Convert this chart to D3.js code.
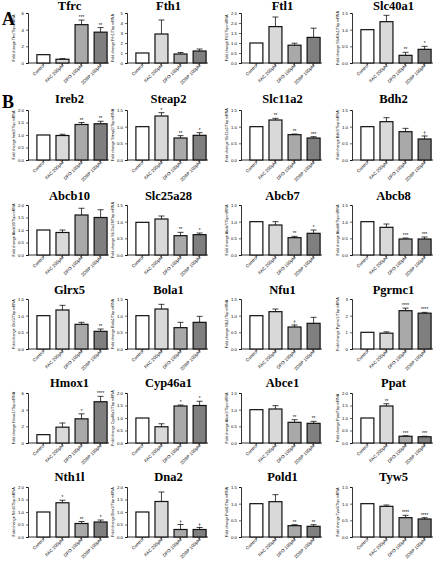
<!DOCTYPE html>
<html>
  <head>
    <meta charset="UTF-8">
    <title>Fold change panels</title>
    <script src="https://d3js.org/d3.v7.min.js"></script>
    <style>
      body { margin: 0; background: #fff; }
    </style>
  </head>
  <body>
    <svg width="444" height="561"></svg>
    <script>
      // groups on the x axis
      var groups = ["Control", "FAC 200μM", "DFO 100μM", "2DBP 100μM"];
      var fills = ["#ffffff", "#d9d9d9", "#a9a9a9", "#7f7f7f"];

      // gene names, one per panel, row by row
      var genes = ["Tfrc", "Fth1", "Ftl1", "Slc40a1",
                   "Ireb2", "Steap2", "Slc11a2", "Bdh2",
                   "Abcb10", "Slc25a28", "Abcb7", "Abcb8",
                   "Glrx5", "Bola1", "Nfu1", "Pgrmc1",
                   "Hmox1", "Cyp46a1", "Abce1", "Ppat",
                   "Nth1l", "Dna2", "Pold1", "Tyw5"];

      // mean fold change
      var means = [[1, 0.45, 4.6, 3.7], [1, 2.9, 0.9, 1.2], [1, 1.82, 0.89, 1.28], [1, 1.24, 0.23, 0.41],
                   [1, 0.98, 1.42, 1.45], [1, 1.32, 0.66, 0.74], [1, 1.2, 0.76, 0.66], [1, 1.15, 0.85, 0.63],
                   [1, 0.9, 1.6, 1.5], [0.98, 1.08, 0.58, 0.61], [1, 0.9, 0.52, 0.65], [1, 0.83, 0.48, 0.48],
                   [1, 1.17, 0.74, 0.53], [1, 1.2, 0.64, 0.8], [1, 1.12, 0.66, 0.77], [1, 0.95, 2.3, 2.15],
                   [1, 1.9, 2.9, 4.95], [1, 0.65, 1.48, 1.5], [1, 1.02, 0.62, 0.59], [1, 1.48, 0.27, 0.25],
                   [1, 1.37, 0.54, 0.6], [1, 1.42, 0.3, 0.3], [1, 1.06, 0.34, 0.32], [1, 0.92, 0.58, 0.54]];

      // standard error
      var errors = [[0, 0.08, 0.55, 0.55], [0, 1.4, 0.15, 0.2], [0, 0.48, 0.1, 0.46], [0, 0.19, 0.09, 0.09],
                    [0, 0.05, 0.08, 0.1], [0, 0.1, 0.07, 0.08], [0, 0.05, 0.02, 0.04], [0, 0.12, 0.1, 0.09],
                    [0, 0.1, 0.27, 0.31], [0, 0.09, 0.1, 0.05], [0, 0.1, 0.04, 0.1], [0, 0.1, 0.03, 0.06],
                    [0, 0.14, 0.06, 0.07], [0, 0.14, 0.16, 0.18], [0, 0.08, 0.06, 0.18], [0, 0.08, 0.15, 0.05],
                    [0, 0.5, 0.6, 0.65], [0, 0.12, 0.04, 0.17], [0, 0.1, 0.08, 0.06], [0, 0.09, 0.02, 0.02],
                    [0, 0.1, 0.08, 0.08], [0, 0.38, 0.2, 0.08], [0, 0.21, 0.03, 0.05], [0, 0.04, 0.07, 0.04]];

      // significance marks
      var marks = [["", "", "***", "**"], ["", "", "", ""], ["", "", "", ""], ["", "", "**", "*"],
                   ["", "", "**", "**"], ["", "*", "**", "*"], ["", "**", "**", "***"], ["", "", "", "†"],
                   ["", "", "", ""], ["", "", "**", "*"], ["", "", "**", "*"], ["", "", "***", "***"],
                   ["", "", "", "**"], ["", "", "", ""], ["", "", "†", ""], ["", "", "****", "****"],
                   ["", "", "*", "****"], ["", "", "*", "*"], ["", "", "**", "**"], ["", "**", "***", "***"],
                   ["", "*", "**", "*"], ["", "", "†", "†"], ["", "", "**", "**"], ["", "", "****", "****"]];

      // y axis tick values per panel
      var yTicks = [[0, 2, 4, 6], [0, 1, 2, 3, 4, 5], [0, 0.5, 1, 1.5, 2, 2.5], [0, 0.5, 1, 1.5],
                    [0, 0.5, 1, 1.5, 2], [0, 0.5, 1, 1.5], [0, 0.5, 1, 1.5], [0, 0.5, 1, 1.5],
                    [0, 0.5, 1, 1.5, 2], [0, 0.5, 1, 1.5], [0, 0.5, 1, 1.5], [0, 0.5, 1, 1.5],
                    [0, 0.5, 1, 1.5], [0, 0.5, 1, 1.5], [0, 0.5, 1, 1.5], [0, 1, 2, 3],
                    [0, 2, 4, 6], [0, 0.5, 1, 1.5, 2], [0, 0.5, 1, 1.5], [0, 0.5, 1, 1.5, 2],
                    [0, 0.5, 1, 1.5, 2], [0, 0.5, 1, 1.5, 2], [0, 0.5, 1, 1.5], [0, 0.5, 1, 1.5]];

      var svg = d3.select("svg");

      // layout of the grid
      var colLeft = [28, 127, 241, 352];
      var plotW = 81;
      var rowBase = [63, 160, 255, 349, 443, 537];
      var plotH = 50;
      var titleY = [10, 103, 200, 294, 387, 481];

      // panel letters
      svg.append("text").attr("x", 2).attr("y", 25)
        .attr("font-family", "Liberation Serif").attr("font-weight", "bold").attr("font-size", 18)
        .text("A");
      svg.append("text").attr("x", 2).attr("y", 108)
        .attr("font-family", "Liberation Serif").attr("font-weight", "bold").attr("font-size", 18)
        .text("B");

      genes.forEach(function(gene, i) {
        var row = Math.floor(i / 4), col = i % 4;
        var g = svg.append("g")
          .attr("transform", "translate(" + colLeft[col] + "," + (rowBase[row] - plotH) + ")");

        var ticks = yTicks[i];
        var y = d3.scaleLinear().domain([0, d3.max(ticks)]).range([plotH, 0]);
        var x = d3.scaleBand().domain(groups).range([7, plotW]).paddingInner(0.32).paddingOuter(0.1);
        var step = ticks[1] - ticks[0];
        var fmt = step >= 1 ? d3.format("d") : d3.format(".1f");

        // title
        svg.append("text")
          .attr("x", colLeft[col] + plotW / 2 + 1).attr("y", titleY[row])
          .attr("text-anchor", "middle")
          .attr("font-family", "Liberation Serif").attr("font-weight", "bold").attr("font-size", 12.5)
          .text(gene);

        // y axis
        var yAxis = g.append("g")
          .call(d3.axisLeft(y).tickValues(ticks).tickFormat(fmt).tickSize(2).tickPadding(2));
        yAxis.selectAll("text").attr("font-size", 4.3).attr("font-family", "Liberation Sans");
        yAxis.select(".domain").attr("stroke-width", 0.8);
        yAxis.selectAll(".tick line").attr("stroke-width", 0.6);

        // y axis title
        g.append("text")
          .attr("transform", "translate(-13," + (plotH / 2) + ") rotate(-90)")
          .attr("text-anchor", "middle")
          .attr("font-family", "Liberation Sans").attr("font-size", 3.7)
          .text("Fold change " + gene + "/Tbp mRNA");

        // x axis
        var xAxis = g.append("g")
          .attr("transform", "translate(0," + plotH + ")")
          .call(d3.axisBottom(x).tickSize(2).tickSizeOuter(0));
        xAxis.select(".domain").attr("d", "M0,0H" + plotW).attr("stroke-width", 0.8);
        xAxis.selectAll(".tick line").attr("stroke-width", 0.6);
        xAxis.selectAll("text")
          .attr("font-size", 4.5).attr("font-family", "Liberation Sans")
          .attr("text-anchor", "end")
          .attr("dy", null).attr("y", 3).attr("x", -1)
          .attr("transform", "rotate(-45)");

        var d = groups.map(function(k, j) {
          return {k: k, v: means[i][j], e: errors[i][j], m: marks[i][j], c: fills[j]};
        });

        // bars
        g.selectAll("rect.bar").data(d).enter().append("rect")
          .attr("class", "bar")
          .attr("x", function(p) { return x(p.k); })
          .attr("width", x.bandwidth())
          .attr("y", function(p) { return y(p.v); })
          .attr("height", function(p) { return plotH - y(p.v); })
          .attr("fill", function(p) { return p.c; })
          .attr("stroke", "#111").attr("stroke-width", 1.2);

        // error bars
        var eb = g.selectAll("g.err").data(d.filter(function(p) { return p.e > 0; })).enter().append("g");
        eb.append("line")
          .attr("x1", function(p) { return x(p.k) + x.bandwidth() / 2; })
          .attr("x2", function(p) { return x(p.k) + x.bandwidth() / 2; })
          .attr("y1", function(p) { return y(p.v); })
          .attr("y2", function(p) { return y(p.v + p.e); })
          .attr("stroke", "#111").attr("stroke-width", 0.8);
        eb.append("line")
          .attr("x1", function(p) { return x(p.k) + x.bandwidth() / 2 - 3; })
          .attr("x2", function(p) { return x(p.k) + x.bandwidth() / 2 + 3; })
          .attr("y1", function(p) { return y(p.v + p.e); })
          .attr("y2", function(p) { return y(p.v + p.e); })
          .attr("stroke", "#111").attr("stroke-width", 0.8);

        // significance marks
        g.selectAll("text.sig").data(d.filter(function(p) { return p.m; })).enter().append("text")
          .attr("class", "sig")
          .attr("x", function(p) { return x(p.k) + x.bandwidth() / 2; })
          .attr("y", function(p) { return y(p.v + p.e) - 1; })
          .attr("text-anchor", "middle")
          .attr("font-family", "Liberation Sans").attr("font-size", 4.6)
          .text(function(p) { return p.m; });
      });
    </script>
  </body>
</html>
